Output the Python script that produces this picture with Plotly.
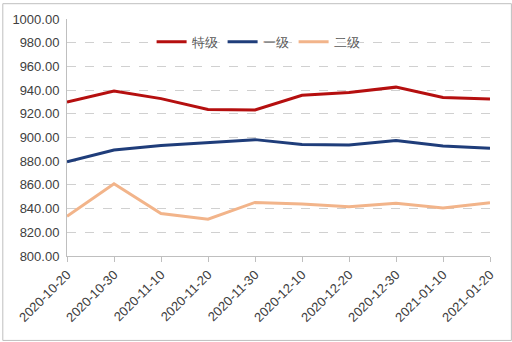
import plotly.graph_objects as go

dates = ["2020-10-20", "2020-10-30", "2020-11-10", "2020-11-20", "2020-11-30",
         "2020-12-10", "2020-12-20", "2020-12-30", "2021-01-10", "2021-01-20"]
grade_special = [930.0, 939.2, 932.8, 923.6, 923.3, 935.6, 938.0, 942.5, 933.8, 932.4]
grade_one = [879.5, 889.5, 893.3, 895.6, 898.2, 894.0, 893.6, 897.5, 892.8, 891.0]
grade_two = [833.5, 861.0, 835.8, 831.0, 845.2, 843.8, 841.5, 844.5, 840.5, 845.0]
y_ticks = [800, 820, 840, 860, 880, 900, 920, 940, 960, 980, 1000]

W, H = 512, 342
ml, mr, mt, mb = 65, 22, 16, 86
pw, ph = W - ml - mr, H - mt - mb

fig = go.Figure()
fig.add_trace(go.Scatter(x=dates, y=grade_special, name="特级", mode="lines",
                         line=dict(color="#B50F0F", width=3)))
fig.add_trace(go.Scatter(x=dates, y=grade_one, name="一级", mode="lines",
                         line=dict(color="#1F3D7A", width=3)))
fig.add_trace(go.Scatter(x=dates, y=grade_two, name="二级", mode="lines",
                         line=dict(color="#F2B48A", width=3)))

fig.update_layout(
    width=W, height=H,
    margin=dict(l=ml, r=mr, t=mt, b=mb),
    paper_bgcolor="white", plot_bgcolor="white",
    font=dict(family="Liberation Sans, Arial, sans-serif", size=13, color="#404040"),
    legend=dict(orientation="h", x=(150 - ml) / pw, xanchor="left",
                y=1 - (39 - mt) / ph, yanchor="middle",
                font=dict(size=13, color="#595959"),
                bgcolor="rgba(0,0,0,0)", itemwidth=30, tracegroupgap=0),
    showlegend=True,
)

fig.update_xaxes(type="category", categoryorder="array", categoryarray=dates,
                 range=[0, len(dates) - 1], tickangle=-45,
                 showline=True, linecolor="#BFBFBF", linewidth=1,
                 ticks="outside", tickcolor="#BFBFBF", ticklen=5,
                 tickfont=dict(size=13, color="#404040"), showgrid=False)
fig.update_yaxes(range=[800, 1000], tickvals=y_ticks,
                 ticktext=[f"{v:.2f}" for v in y_ticks],
                 showline=True, linecolor="#BFBFBF", linewidth=1,
                 showgrid=True, gridcolor="#D0D0D0", griddash="dash", gridwidth=1,
                 zeroline=False, tickfont=dict(size=13, color="#404040"),
                 ticks="", ticklabelstandoff=4)

fig.add_shape(type="rect", xref="paper", yref="paper",
              x0=(0.5 - ml) / pw, x1=(W - 0.5 - ml) / pw,
              y0=-(mb - 0.5) / ph, y1=1 + (mt - 0.5) / ph,
              line=dict(color="#BFBFBF", width=1), layer="below")

fig.write_html("out.html")
